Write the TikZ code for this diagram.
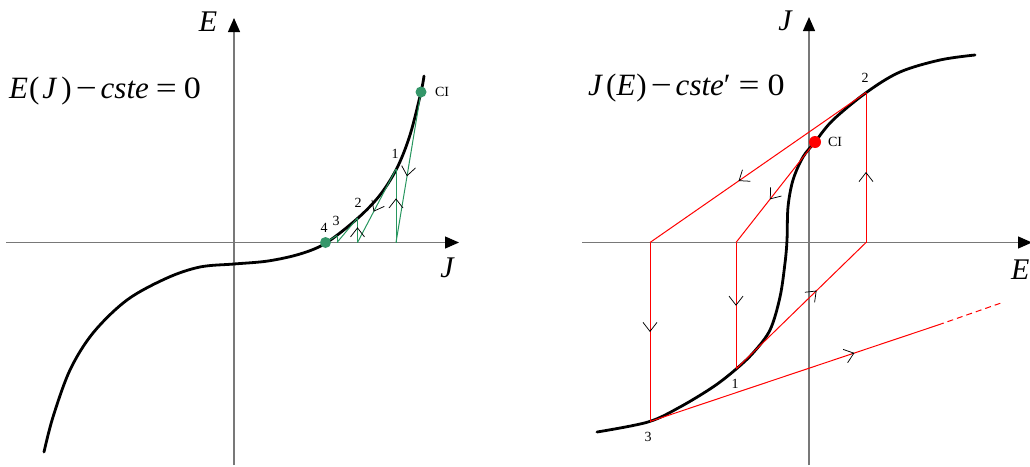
\documentclass[tikz,border=0pt]{standalone}
\usepackage{fontspec}
\usepackage{graphicx}
\setmainfont{Liberation Serif}
\usetikzlibrary{arrows.meta,calc}
\definecolor{axgray}{RGB}{120,120,120}
\definecolor{grn}{RGB}{40,150,95}
\definecolor{dotgrn}{RGB}{52,150,105}
\tikzset{
  axis/.style={draw=axgray,line width=1.2pt,-{Triangle[length=14pt,width=12pt,color=black]}},
  curve/.style={line width=2.8pt,black,line cap=round},
  gline/.style={draw=grn,line width=1pt},
  rline/.style={draw=red,line width=1pt},
  chev/.style={draw=black,line width=0.75pt,-{Straight Barb[length=9pt,width=14pt]}},
  big/.style={font=\fontsize{31}{33}\selectfont},
  axlab/.style={font=\fontsize{30}{32}\selectfont\itshape},
  small/.style={font=\fontsize{14}{16}\selectfont,inner sep=0pt},
  gdot/.style={circle,fill=dotgrn,inner sep=0pt,minimum size=11pt},
  rdot/.style={circle,fill=red,inner sep=0pt,minimum size=12pt}
}
\newcommand{\wminus}{\scalebox{1.2}[1]{−}}
\newcommand{\wequal}{\scalebox{1.2}[1]{=}}
\newcommand{\wzero}{\scalebox{1.1}[1]{0}}
% chevron on segment #1--#2 at fraction #3
\newcommand{\chevat}[3]{\draw[chev] ($(#1)!#3-0.01!(#2)$) -- ($(#1)!#3!(#2)$);}
\begin{document}
\begin{tikzpicture}[x=1pt,y=-1pt]
\useasboundingbox (0,0) rectangle (1030,466);
% ---------------- left plot ----------------
\coordinate (lyb) at (234,465);
\coordinate (lyt) at (234,18);
\coordinate (lxl) at (6,242.5);
\coordinate (lxr) at (459,242.5);
\draw[axis] (lyb) -- (lyt);
\draw[axis] (lxl) -- (lxr);
\node[axlab] (lE) at (208,22) {E};
\node[axlab] (lJ) at (447,268) {J};
\node[big,anchor=base west,inner sep=0pt] (lform) at (9,98) {\textit{E}\kern1pt(\kern3pt\textit{J}\kern4pt)\kern4pt\wminus\kern4pt\textit{cste}\kern7pt\wequal\kern7pt\wzero};
\draw[curve] plot[smooth,tension=0.55] coordinates {(44,452) (53,417) (70,370) (93,333) (127,300) (167,278) (200,267) (234,264) (268,261) (300,254) (326,243) (358,218) (380,195) (397,168) (410,135) (421,92) (424,76)};
\coordinate (lCI) at (421,92);
\coordinate (b1) at (396,242.5);
\coordinate (p1) at (396,169);
\coordinate (b2) at (357.5,242.5);
\coordinate (p2) at (357.5,218);
\coordinate (b3) at (337,242.5);
\coordinate (p3) at (337,235.5);
\coordinate (p4) at (325.5,242.5);
\draw[gline] (lCI) -- (b1);
\draw[gline] (b1) -- (p1);
\draw[gline] (p1) -- (b2);
\draw[gline] (b2) -- (p2);
\draw[gline] (p2) -- (b3);
\draw[gline] (b3) -- (p3);
\draw[gline] (p3) -- (p4);
\chevat{lCI}{b1}{0.56}
\chevat{b1}{p1}{0.6}
\chevat{p1}{b2}{0.58}
\chevat{b2}{p2}{0.62}
\node[gdot] (lCIdot) at (lCI) {};
\node[gdot] (l4dot) at (p4) {};
\node[small] (lCIl) at (442,92) {CI};
\node[small] (l1) at (395,154) {1};
\node[small] (l2) at (358,203) {2};
\node[small] (l3) at (336,221) {3};
\node[small] (l4) at (324,228) {4};
% ---------------- right plot ----------------
\coordinate (ryb) at (809,465);
\coordinate (ryt) at (809,17);
\coordinate (rxl) at (582,242.5);
\coordinate (rxr) at (1032,242.5);
\draw[axis] (ryb) -- (ryt);
\draw[axis] (rxl) -- (rxr);
\node[axlab] (rJ) at (785,21) {J};
\node[axlab,anchor=west,inner sep=0pt] (rE) at (1011,270) {E};
\node[big,anchor=base west,inner sep=0pt] (rform) at (588,95) {\textit{J}\kern3pt(\textit{E}\kern1pt)\kern4pt\wminus\kern4pt\textit{cste}′\kern8pt\wequal\kern8pt\wzero};
\draw[curve] plot[smooth,tension=0.55] coordinates {(597,432) (648,422) (680,407) (713,387) (735,370) (753,353) (770,330) (780,297) (785,263) (787,240) (788,207) (793,180) (803,157) (815,142) (833,120) (867,92) (900,72) (940,60) (975,55)};
\coordinate (rCI) at (815,142);
\coordinate (c1) at (736,242.5);
\coordinate (r1) at (736,369);
\coordinate (c2) at (866,242.5);
\coordinate (r2) at (866,92.5);
\coordinate (c3) at (650,242.5);
\coordinate (r3) at (650,421.5);
\coordinate (d1) at (938,325);
\coordinate (d2) at (1001,303);
\draw[rline] (rCI) -- (c1);
\draw[rline] (c1) -- (r1);
\draw[rline] (r1) -- (c2);
\draw[rline] (c2) -- (r2);
\draw[rline] (r2) -- (c3);
\draw[rline] (c3) -- (r3);
\draw[rline] (r3) -- (d1);
\draw[rline,dash pattern=on 6pt off 4pt] (d1) -- (d2);
\chevat{rCI}{c1}{0.57}
\chevat{c1}{r1}{0.5}
\chevat{r1}{c2}{0.62}
\chevat{c2}{r2}{0.47}
\chevat{r2}{c3}{0.59}
\chevat{c3}{r3}{0.5}
\chevat{r3}{d1}{0.71}
\node[rdot] (rCIdot) at (rCI) {};
\node[small] (rCIl) at (835,142) {CI};
\node[small] (r2l) at (865,78) {2};
\node[small] (r1l) at (735,384) {1};
\node[small] (r3l) at (648,437) {3};
\end{tikzpicture}
\end{document}
